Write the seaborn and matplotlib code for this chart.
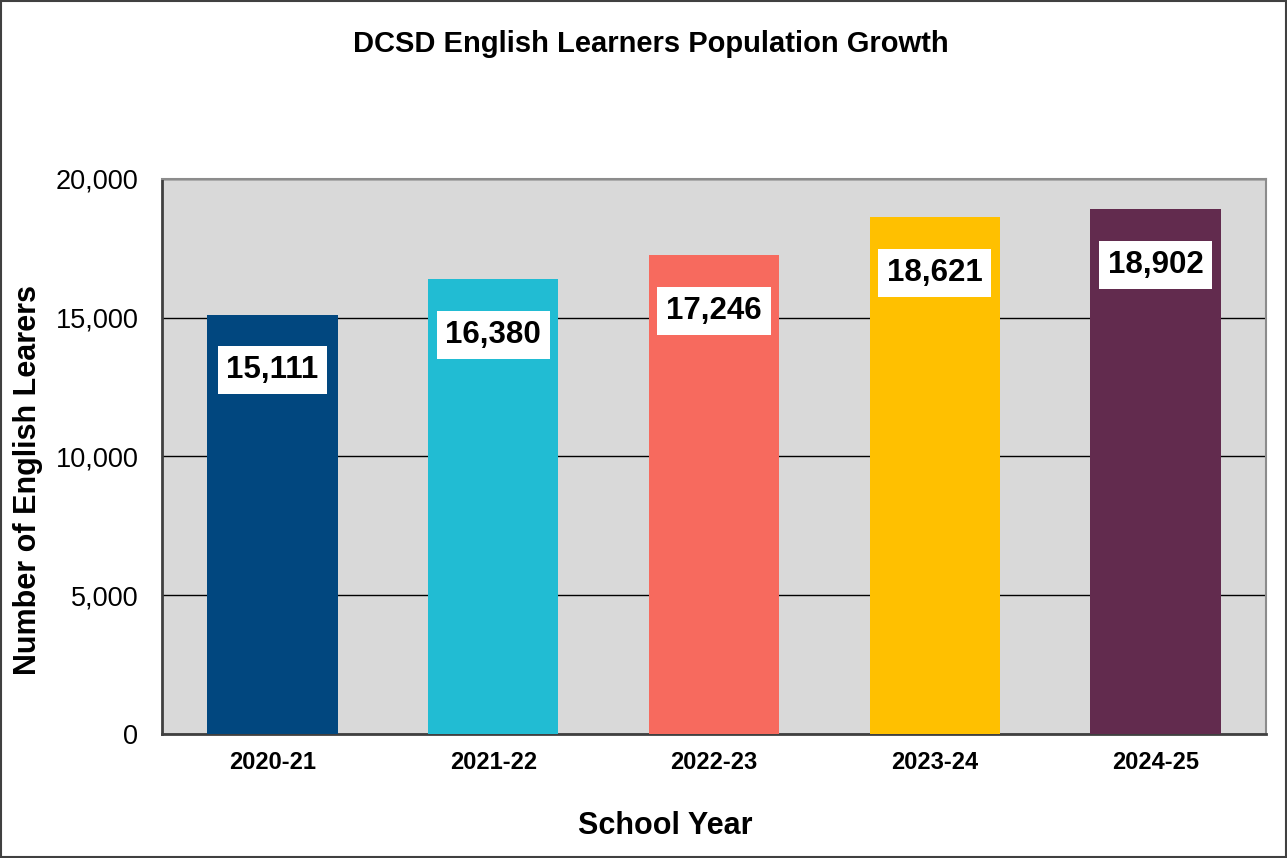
import matplotlib
matplotlib.use("Agg")
import matplotlib.pyplot as plt
from matplotlib.patches import Rectangle
from matplotlib.ticker import FuncFormatter
import seaborn as sns
import pandas as pd

# School years and English learner counts
years = ["2020-21", "2021-22", "2022-23", "2023-24", "2024-25"]
learners = [15111, 16380, 17246, 18621, 18902]
bar_colors = ["#01477F", "#21BCD3", "#F76A5E", "#FFC000", "#622B4E"]
y_ticks = [0, 5000, 10000, 15000, 20000]

sns.set_theme(style="white")
plt.rcParams["font.family"] = ["Liberation Sans", "DejaVu Sans"]
plt.rcParams["text.color"] = "black"

df = pd.DataFrame({"year": years, "learners": learners})

fig = plt.figure(figsize=(12.87, 8.58), dpi=100)
ax = fig.add_axes([0.1259, 0.1445, 0.8578, 0.6469])
ax.set_facecolor("#D9D9D9")

sns.barplot(data=df, x="year", y="learners", hue="year", palette=bar_colors,
            width=0.59, legend=False, saturation=1, ax=ax, zorder=3,
            edgecolor="none", linewidth=0)

ax.set_ylim(0, 20000)
ax.set_yticks(y_ticks)
ax.yaxis.set_major_formatter(FuncFormatter(lambda v, p: f"{int(v):,}"))
ax.grid(axis="y", color="black", linewidth=1.0, zorder=1)
ax.set_axisbelow(True)

ax.tick_params(axis="y", length=0, pad=17, labelsize=19.5, labelcolor="black")
ax.tick_params(axis="x", length=0, pad=12, labelsize=17, labelcolor="black")
for lbl in ax.get_xticklabels():
    lbl.set_fontweight("bold")

for side in ["left", "bottom"]:
    ax.spines[side].set_color("#404040")
    ax.spines[side].set_linewidth(2)
for side in ["top", "right"]:
    ax.spines[side].set_color("#8C8C8C")
    ax.spines[side].set_linewidth(1.5)

# Value labels inside each bar
for i, v in enumerate(learners):
    ax.annotate(f"{v:,}", xy=(i, v), xytext=(0, -40), textcoords="offset points",
                ha="center", va="center", fontsize=22.5, fontweight="bold",
                color="black", zorder=5,
                bbox=dict(boxstyle="square,pad=0.28", facecolor="white", edgecolor="none"))

ax.set_xlabel("")
ax.set_ylabel("")
fig.text(0.5167, 0.037, "School Year", ha="center", va="center",
         fontsize=22, fontweight="bold", color="black")
fig.text(0.0215, 0.4406, "Number of English Learers", ha="center", va="center",
         rotation=90, fontsize=22, fontweight="bold", color="black")

fig.text(0.506, 0.949, "DCSD English Learners Population Growth", ha="center",
         va="center", fontsize=21, fontweight="bold", color="black")

fig.patches.append(Rectangle((0.001, 0.001), 0.998, 0.998, transform=fig.transFigure,
                             fill=False, edgecolor="#404040", linewidth=1.5))

fig.savefig("out.png", dpi=100)
